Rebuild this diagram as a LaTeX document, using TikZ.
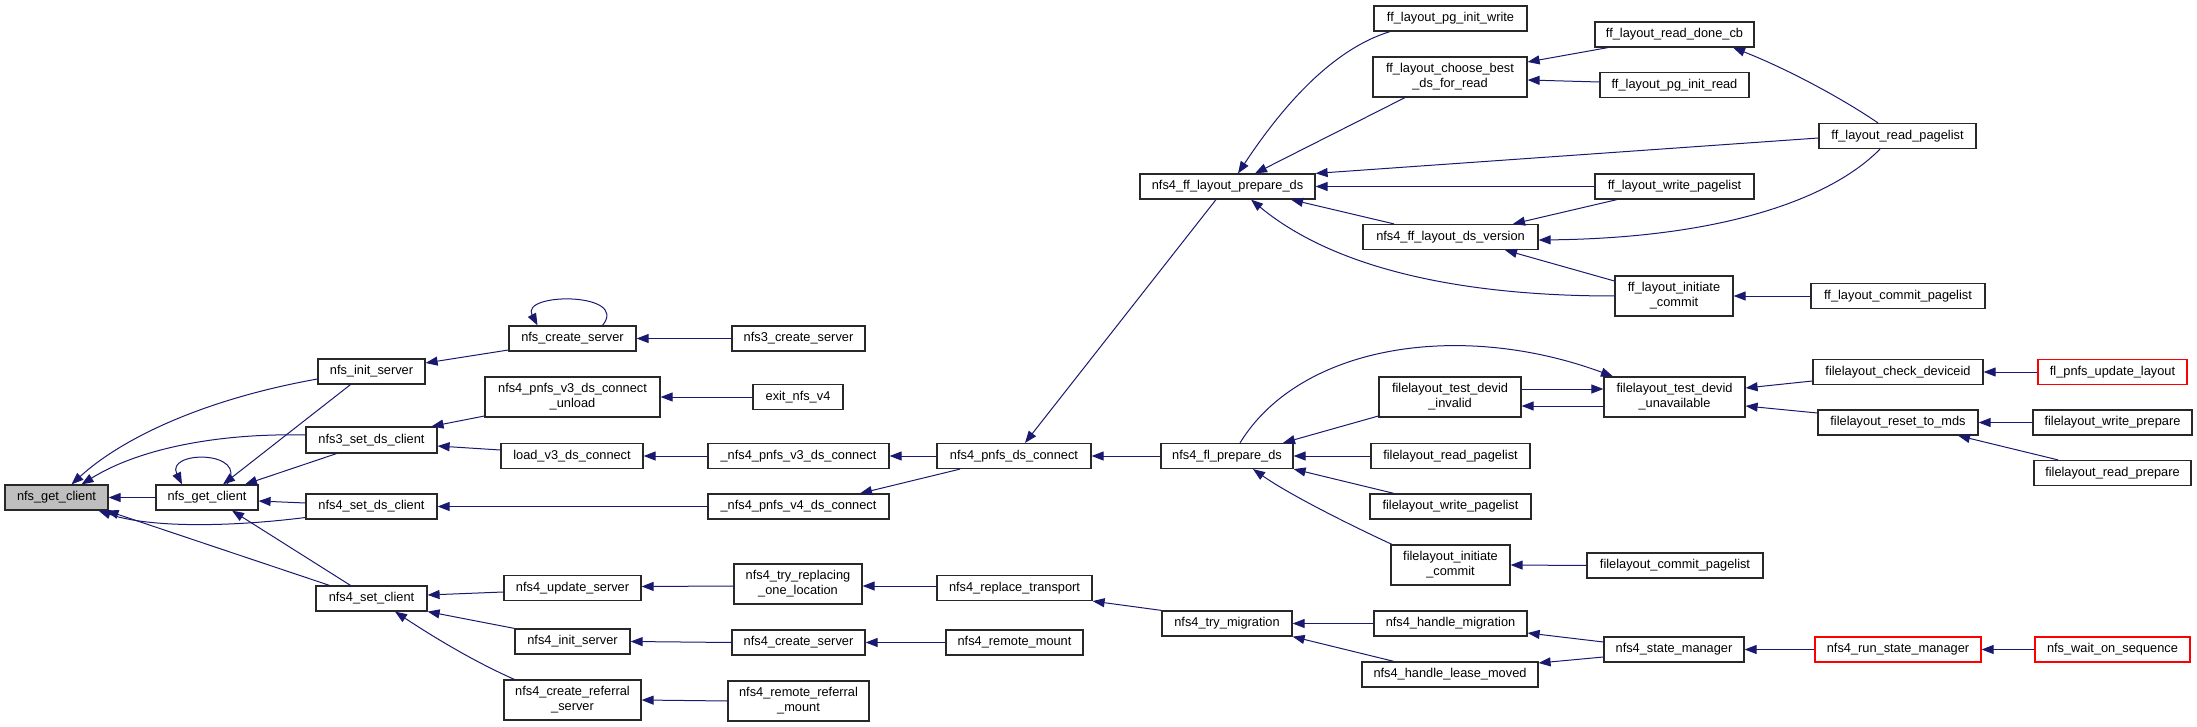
\documentclass[tikz,border=0pt]{standalone}
\usepackage{fontspec}
\setmainfont{Liberation Sans}
\usetikzlibrary{arrows.meta}
\definecolor{edgeblue}{RGB}{25,25,112}
\definecolor{rootgray}{RGB}{191,191,191}
\definecolor{boxline}{RGB}{40,40,40}
\definecolor{redline}{RGB}{255,0,0}
\begin{document}
\begin{tikzpicture}[x=1pt,y=-1pt,
  fn/.style={draw=boxline, line width=1.2pt, fill=white, minimum height=25pt, inner sep=0pt,
    font=\fontsize{12.8pt}{15pt}\selectfont, align=center},
  fntwo/.style={fn, minimum height=40pt},
  redbox/.style={fn, draw=redline},
  rootbox/.style={fn, fill=rootgray},
  calledge/.style={draw=edgeblue, line width=1pt, -{Triangle[length=12pt,width=9pt]}}]
\useasboundingbox (0,0) rectangle (2197,727);
% rank 1-2
\node[rootbox, minimum width=103pt] (root) at (56.5,497.5) {nfs\_get\_client};
\node[fn, minimum width=102pt] (ngc) at (207,497.5) {nfs\_get\_client};
% rank 3
\node[fn, minimum width=107pt] (initsrv) at (371.5,371.5) {nfs\_init\_server};
\node[fn, minimum width=131pt, minimum height=26pt] (nfsthreeset) at (371.5,440) {nfs3\_set\_ds\_client};
\node[fn, minimum width=131pt] (nfsfourset) at (371.5,506.5) {nfs4\_set\_ds\_client};
\node[fn, minimum width=111pt] (setcl) at (371.5,598.5) {nfs4\_set\_client};
% rank 4
\node[fn, minimum width=127pt] (createsrv) at (572.5,338.5) {nfs\_create\_server};
\node[fntwo, minimum width=175pt] (unload) at (572.5,397) {nfs4\_pnfs\_v3\_ds\_connect\\\_unload};
\node[fn, minimum width=142pt] (loadv) at (572,456) {load\_v3\_ds\_connect};
\node[fn, minimum width=137pt] (updsrv) at (572.5,588) {nfs4\_update\_server};
\node[fn, minimum width=115pt] (finitsrv) at (572.5,641.5) {nfs4\_init\_server};
\node[fntwo, minimum width=137pt] (referral) at (572.5,700) {nfs4\_create\_referral\\\_server};
% rank 5
\node[fn, minimum width=133pt] (tcreatesrv) at (798.5,338.5) {nfs3\_create\_server};
\node[fn, minimum width=90pt] (exitv) at (798,397) {exit\_nfs\_v4};
\node[fn, minimum width=181pt] (vthree) at (798.5,456) {\_nfs4\_pnfs\_v3\_ds\_connect};
\node[fn, minimum width=181pt] (vfour) at (798.5,506.5) {\_nfs4\_pnfs\_v4\_ds\_connect};
\node[fntwo, minimum width=128pt] (tryrepl) at (798,584) {nfs4\_try\_replacing\\\_one\_location};
\node[fn, minimum width=133pt] (fcreatesrv) at (798.5,642.5) {nfs4\_create\_server};
\node[fntwo, minimum width=141pt] (remoteref) at (798.5,701) {nfs4\_remote\_referral\\\_mount};
% rank 6
\node[fn, minimum width=154pt] (pnfsds) at (1014,456) {nfs4\_pnfs\_ds\_connect};
\node[fn, minimum width=155pt] (replace) at (1014.5,588) {nfs4\_replace\_transport};
\node[fn, minimum width=137pt] (remotemount) at (1014.5,642.5) {nfs4\_remote\_mount};
% rank 7
\node[fn, minimum width=175pt] (ffprep) at (1227.5,186.5) {nfs4\_ff\_layout\_prepare\_ds};
\node[fn, minimum width=132pt] (flprep) at (1227,456) {nfs4\_fl\_prepare\_ds};
\node[fn, minimum width=130pt] (trymig) at (1227,623.5) {nfs4\_try\_migration};
% rank 8
\node[fn, minimum width=153pt] (pginitwrite) at (1450.5,18.5) {ff\_layout\_pg\_init\_write};
\node[fntwo, minimum width=154pt] (choosebest) at (1450,77) {ff\_layout\_choose\_best\\\_ds\_for\_read};
\node[fn, minimum width=175pt] (dsversion) at (1450.5,237) {nfs4\_ff\_layout\_ds\_version};
\node[fntwo, minimum width=142pt] (invalid) at (1450,397) {filelayout\_test\_devid\\\_invalid};
\node[fn, minimum width=159pt] (flreadpl) at (1450.5,456) {filelayout\_read\_pagelist};
\node[fn, minimum width=161pt] (flwritepl) at (1450.5,506.5) {filelayout\_write\_pagelist};
\node[fntwo, minimum width=119pt] (flinitcommit) at (1450.5,565) {filelayout\_initiate\\\_commit};
\node[fn, minimum width=153pt] (handlemig) at (1450.5,623.5) {nfs4\_handle\_migration};
\node[fn, minimum width=176pt] (leasemoved) at (1450,674.5) {nfs4\_handle\_lease\_moved};
% rank 9
\node[fn, minimum width=159pt] (readdone) at (1674.5,34.5) {ff\_layout\_read\_done\_cb};
\node[fn, minimum width=149pt] (pginitread) at (1674.5,85) {ff\_layout\_pg\_init\_read};
\node[fn, minimum width=159pt] (ffwritepl) at (1674.5,186.5) {ff\_layout\_write\_pagelist};
\node[fntwo, minimum width=118pt] (ffinitcommit) at (1674,296) {ff\_layout\_initiate\\\_commit};
\node[fntwo, minimum width=141pt] (unavail) at (1674.5,397) {filelayout\_test\_devid\\\_unavailable};
\node[fn, minimum width=176pt] (flcommitpl) at (1675,565.5) {filelayout\_commit\_pagelist};
\node[fn, minimum width=140pt] (statemgr) at (1674,649.5) {nfs4\_state\_manager};
% rank 10
\node[fn, minimum width=157pt] (ffreadpl) at (1897.5,136) {ff\_layout\_read\_pagelist};
\node[fn, minimum width=174pt] (ffcommitpl) at (1898,296) {ff\_layout\_commit\_pagelist};
\node[fn, minimum width=170pt] (checkdev) at (1898,372) {filelayout\_check\_deviceid};
\node[fn, minimum width=160pt] (resetmds) at (1898,422.5) {filelayout\_reset\_to\_mds};
\node[redbox, minimum width=166pt] (runstate) at (1898,649.5) {nfs4\_run\_state\_manager};
% rank 11
\node[redbox, minimum width=149pt] (flpnfsupd) at (2112.5,372) {fl\_pnfs\_update\_layout};
\node[fn, minimum width=159pt] (writeprep) at (2112.5,422.5) {filelayout\_write\_prepare};
\node[fn, minimum width=157pt] (readprep) at (2112.5,473) {filelayout\_read\_prepare};
\node[redbox, minimum width=155pt] (waitseq) at (2112.5,649.5) {nfs\_wait\_on\_sequence};

% edges into root
\draw[calledge] (ngc.west) -- (root.east);
\draw[calledge] ([yshift=-7.5pt]initsrv.west) .. controls (200,400) and (120,440) .. ([xshift=15pt]root.north);
\draw[calledge] ([yshift=5pt]nfsthreeset.west) .. controls (220,433) and (140,448) .. ([xshift=25pt]root.north);
\draw[calledge] ([yshift=-11pt]nfsfourset.west) .. controls (230,527) and (150,528) .. ([xshift=42pt]root.south);
\draw[calledge] ([xshift=-42pt]setcl.north) -- ([xshift=50pt]root.south);
% edges into ngc
\draw[calledge] ([xshift=20pt]ngc.north) .. controls (250,450) and (165,450) .. ([xshift=-25pt]ngc.north);
\draw[calledge] ([xshift=-21pt]initsrv.south) -- ([xshift=16pt]ngc.north);
\draw[calledge] ([xshift=-35pt]nfsthreeset.south) -- ([xshift=38pt]ngc.north);
\draw[calledge] ([yshift=3.5pt]nfsfourset.west) -- ([yshift=-3.5pt]ngc.east);
\draw[calledge] ([xshift=-21pt]setcl.north) -- ([xshift=25pt]ngc.south);
% rank 3 <- 4
\draw[calledge] ([yshift=-11.5pt]createsrv.west) -- ([yshift=8.5pt]initsrv.east);
\draw[calledge] ([xshift=30pt]createsrv.north) .. controls (630,292) and (520,292) .. ([xshift=-35pt]createsrv.north);
\draw[calledge] ([yshift=-19pt]unload.west) -- ([xshift=60pt]nfsthreeset.north);
\draw[calledge] ([yshift=6pt]loadv.west) -- ([yshift=-6pt]nfsthreeset.east);
\draw[calledge] (vfour.west) -- (nfsfourset.east);
\draw[calledge] ([yshift=-4pt]updsrv.west) -- ([yshift=3.5pt]setcl.east);
\draw[calledge] (finitsrv.north west) -- (setcl.south east);
\draw[calledge] ([xshift=11pt]referral.north west) .. controls (475,662) and (435,638) .. ([xshift=23.5pt]setcl.south);
% rank 4 <- 5
\draw[calledge] (tcreatesrv.west) -- (createsrv.east);
\draw[calledge] (exitv.west) -- (unload.east);
\draw[calledge] (vthree.west) -- (loadv.east);
\draw[calledge] ([yshift=-2pt]tryrepl.west) -- ([yshift=1.5pt]updsrv.east);
\draw[calledge] (fcreatesrv.west) -- (finitsrv.east);
\draw[calledge] (remoteref.west) -- (referral.east);
% rank 5 <- 6
\draw[calledge] (pnfsds.west) -- (vthree.east);
\draw[calledge] ([xshift=-54pt]pnfsds.south) -- ([xshift=61.5pt]vfour.north);
\draw[calledge] ([yshift=2pt]replace.west) -- ([yshift=-2pt]tryrepl.east);
\draw[calledge] (remotemount.west) -- (fcreatesrv.east);
% rank 6 <- 7
\draw[calledge] ([xshift=-11.5pt]ffprep.south) -- ([xshift=11pt]pnfsds.north);
\draw[calledge] (flprep.west) -- (pnfsds.east);
\draw[calledge] (trymig.north west) -- (replace.south east);
% rank 7 <- 8
\draw[calledge] ([xshift=-60.5pt]pginitwrite.south) .. controls (1330,50) and (1280,110) .. ([xshift=10.5pt]ffprep.north);
\draw[calledge] ([xshift=-45pt]choosebest.south) -- ([xshift=27.5pt]ffprep.north);
\draw[calledge] ([yshift=-2pt]ffreadpl.west) -- (ffprep.north east);
\draw[calledge] (ffwritepl.west) -- (ffprep.east);
\draw[calledge] ([xshift=-56.5pt]dsversion.north) -- ([xshift=63.5pt]ffprep.south);
\draw[calledge] (ffinitcommit.west) .. controls (1450,296) and (1330,265) .. ([xshift=23.5pt]ffprep.south);
\draw[calledge] ([xshift=13pt]flprep.north) .. controls (1300,345) and (1460,320) .. ([xshift=-61.5pt]unavail.north);
\draw[calledge] ([yshift=-19pt]invalid.west) -- ([xshift=56pt]flprep.north);
\draw[calledge] (flreadpl.west) -- (flprep.east);
\draw[calledge] ([xshift=-56.5pt]flwritepl.north) -- (flprep.south east);
\draw[calledge] ([xshift=-58.5pt]flinitcommit.north) .. controls (1350,525) and (1290,495) .. ([xshift=26pt]flprep.south);
\draw[calledge] (handlemig.west) -- (trymig.east);
\draw[calledge] ([xshift=-56pt]leasemoved.north) -- (trymig.south east);
% rank 8 <- 9
\draw[calledge] ([xshift=-66.5pt]readdone.south) -- ([yshift=15pt]choosebest.east);
\draw[calledge] ([yshift=3pt]pginitread.west) -- ([yshift=-3pt]choosebest.east);
\draw[calledge] ([xshift=-57.5pt]ffwritepl.south) -- ([xshift=62.5pt]dsversion.north);
\draw[calledge] ([yshift=15pt]ffinitcommit.west) -- ([xshift=54.5pt]dsversion.south);
\draw[calledge] ([yshift=8pt]invalid.east) -- ([yshift=8pt]unavail.west);
\draw[calledge] ([yshift=-9pt]unavail.west) -- ([yshift=-9pt]invalid.east);
\draw[calledge] (flcommitpl.west) -- (flinitcommit.east);
\draw[calledge] ([yshift=7.5pt]statemgr.west) -- ([yshift=-9.5pt]handlemig.east);
\draw[calledge] ([yshift=-7.5pt]statemgr.west) -- ([yshift=11.5pt]leasemoved.east);
% rank 9 <- 10
\draw[calledge] ([xshift=-19.5pt]ffreadpl.north) .. controls (1840,97) and (1785,68) .. ([xshift=58.5pt]readdone.south);
\draw[calledge] ([xshift=-17.5pt]ffreadpl.south) .. controls (1830,200) and (1720,238) .. ([yshift=-3pt]dsversion.east);
\draw[calledge] (ffcommitpl.west) -- (ffinitcommit.east);
\draw[calledge] ([yshift=-9pt]checkdev.west) -- ([yshift=9pt]unavail.east);
\draw[calledge] ([yshift=9.5pt]resetmds.west) -- ([yshift=-9pt]unavail.east);
\draw[calledge] (runstate.west) -- (statemgr.east);
% rank 10 <- 11
\draw[calledge] (flpnfsupd.west) -- (checkdev.east);
\draw[calledge] (writeprep.west) -- (resetmds.east);
\draw[calledge] ([xshift=-54.5pt]readprep.north) -- ([xshift=60pt]resetmds.south);
\draw[calledge] (waitseq.west) -- (runstate.east);
\end{tikzpicture}
\end{document}
